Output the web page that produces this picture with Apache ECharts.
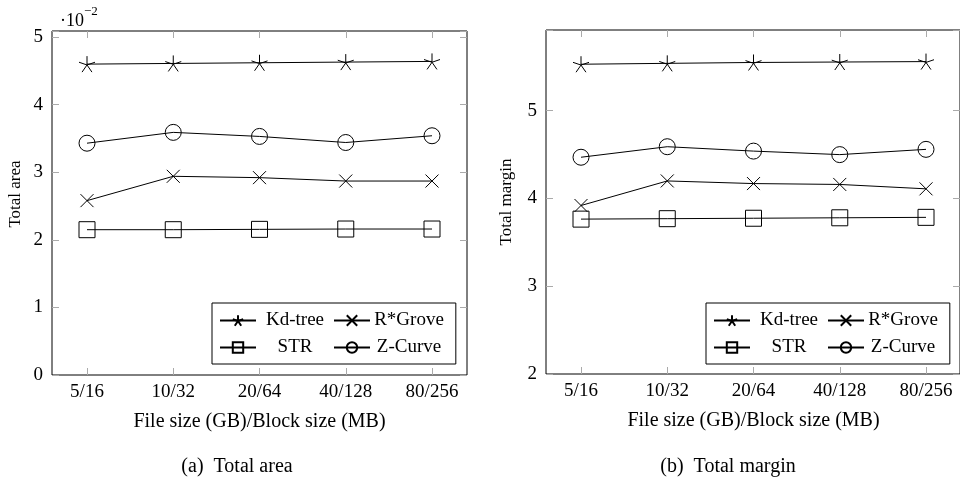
<!DOCTYPE html>
<html>
<head>
<meta charset="utf-8">
<script src="https://cdn.jsdelivr.net/npm/echarts@6/dist/echarts.min.js"></script>
<style>
  html, body { margin: 0; padding: 0; background: #fff; }
  #main { width: 960px; height: 481px; }
</style>
</head>
<body>
<div id="main"></div>
<script>
// x axis categories
const categories = ["5/16", "10/32", "20/64", "40/128", "80/256"];

// (a) total area, in units of 10^-2
const kdArea = [4.60, 4.61, 4.62, 4.63, 4.64];
const rgArea = [2.58, 2.94, 2.92, 2.87, 2.87];
const strArea = [2.15, 2.15, 2.155, 2.16, 2.16];
const zArea = [3.43, 3.59, 3.53, 3.44, 3.54];

// (b) total margin
const kdMargin = [5.53, 5.54, 5.55, 5.555, 5.56];
const rgMargin = [3.92, 4.20, 4.17, 4.16, 4.11];
const strMargin = [3.765, 3.77, 3.775, 3.78, 3.785];
const zMargin = [4.47, 4.59, 4.54, 4.50, 4.56];

const FONT = "Liberation Serif";
const asterisk = "path://M0 0L0 -100M0 0L95.1 -30.9M0 0L-95.1 -30.9M0 0L-58.8 80.9M0 0L58.8 80.9";
const cross = "path://M0 0L100 100M100 0L0 100";

const markers = {
  "Kd-tree": { symbol: asterisk, size: 16 },
  "R*Grove": { symbol: cross, size: 13 },
  "STR": { symbol: "rect", size: 16 },
  "Z-Curve": { symbol: "circle", size: 16 }
};

let chartDom = document.getElementById("main");
let myChart = echarts.init(chartDom);

const tickStyle = { show: true, inside: true, length: 7, lineStyle: { color: "#aaa" } };
const intLabel = v => (Math.abs(v - Math.round(v)) < 1e-6 ? String(Math.round(v)) : "");

// outer grid: box + y ticks; inner grid: data + x ticks
function xAxes(c) {
  return [
    { type: "value", gridIndex: 2 * c, min: 0, max: 1, show: false },
    {
      type: "value", gridIndex: 2 * c + 1, position: "bottom", min: 0, max: 4, interval: 1,
      axisLine: { show: false }, splitLine: { show: false }, axisTick: tickStyle,
      axisLabel: {
        margin: 8, color: "#000", fontFamily: FONT, fontSize: 19,
        formatter: v => categories[Math.round(v)]
      },
      name: "File size (GB)/Block size (MB)", nameLocation: "middle", nameGap: 37,
      nameTextStyle: { color: "#000", fontFamily: FONT, fontSize: 20 }
    },
    {
      type: "value", gridIndex: 2 * c + 1, position: "top", min: 0, max: 4, interval: 1,
      axisLine: { show: false }, splitLine: { show: false }, axisTick: tickStyle,
      axisLabel: { show: false }
    }
  ];
}

function yAxes(c, min, max, name, gap, shift) {
  return [
    {
      type: "value", gridIndex: 2 * c, position: "left", min: min, max: max, interval: 1,
      axisLine: { show: false }, splitLine: { show: false }, axisTick: tickStyle,
      axisLabel: { margin: 9, color: "#000", fontFamily: FONT, fontSize: 19, formatter: intLabel },
      name: name, nameLocation: "middle", nameGap: gap,
      nameTextStyle: { color: "#000", fontFamily: FONT, fontSize: 17, padding: [0, 0, 0, shift] }
    },
    {
      type: "value", gridIndex: 2 * c, position: "right", min: min, max: max, interval: 1,
      axisLine: { show: false }, splitLine: { show: false }, axisTick: tickStyle,
      axisLabel: { show: false }
    },
    { type: "value", gridIndex: 2 * c + 1, min: min, max: max, show: false }
  ];
}

function makeSeries(name, values, c) {
  return {
    name: name,
    type: "line",
    xAxisIndex: 3 * c + 1,
    yAxisIndex: 3 * c + 2,
    data: values.map((v, i) => [i, v]),
    symbol: markers[name].symbol,
    symbolSize: markers[name].size,
    showAllSymbol: true,
    lineStyle: { color: "#000", width: 1 },
    itemStyle: { color: "rgba(0,0,0,0)", borderColor: "#000", borderWidth: 1 },
    emphasis: { disabled: true }
  };
}

function legendAt(left, top) {
  return {
    left: left, top: top, width: 235,
    orient: "horizontal",
    data: ["Kd-tree", "R*Grove", "STR", "Z-Curve"],
    itemWidth: 36, itemHeight: 13, itemGap: 4,
    padding: [6, 12, 5, 7],
    borderColor: "#000", borderWidth: 1, borderRadius: 0,
    backgroundColor: "#fff",
    selectedMode: false,
    formatter: name => "{t|" + name + "}",
    textStyle: {
      color: "#000", fontFamily: FONT, fontSize: 19,
      rich: { t: { width: 68, align: "center", lineHeight: 22, padding: [2, 0, 2, 0], fontFamily: FONT, fontSize: 19, color: "#000" } }
    }
  };
}

const captionStyle = { fontFamily: FONT, fontSize: 20, fontWeight: "normal", color: "#000" };

let option = {
  animation: false,
  title: [
    {
      text: "{a|·10}{b|−2}", left: 55, top: 0,
      textStyle: {
        rich: {
          a: { fontFamily: FONT, fontSize: 18, fontWeight: "normal", color: "#000", verticalAlign: "bottom", padding: [7, 0, 0, 0] },
          b: { fontFamily: FONT, fontSize: 13, fontWeight: "normal", color: "#000", verticalAlign: "top" }
        }
      }
    },
    { text: "(a)  Total area", left: 232, top: 452, textAlign: "center", textStyle: captionStyle },
    { text: "(b)  Total margin", left: 723, top: 452, textAlign: "center", textStyle: captionStyle }
  ],
  grid: [
    { left: 52, top: 31, width: 415, height: 344, show: true, borderColor: "#000", borderWidth: 1 },
    { left: 87, top: 31, width: 345, height: 344, show: false },
    { left: 546, top: 30, width: 415, height: 344, show: true, borderColor: "#000", borderWidth: 1 },
    { left: 581, top: 30, width: 345, height: 344, show: false }
  ],
  legend: [legendAt(212, 303), legendAt(706, 303)],
  xAxis: [...xAxes(0), ...xAxes(1)],
  yAxis: [
    ...yAxes(0, 0, 5.09, "Total area", 28, 18),
    ...yAxes(1, 2, 5.92, "Total margin", 31, 0)
  ],
  series: [
    makeSeries("Kd-tree", kdArea, 0),
    makeSeries("R*Grove", rgArea, 0),
    makeSeries("STR", strArea, 0),
    makeSeries("Z-Curve", zArea, 0),
    makeSeries("Kd-tree", kdMargin, 1),
    makeSeries("R*Grove", rgMargin, 1),
    makeSeries("STR", strMargin, 1),
    makeSeries("Z-Curve", zMargin, 1)
  ]
};

myChart.setOption(option);
</script>
</body>
</html>
